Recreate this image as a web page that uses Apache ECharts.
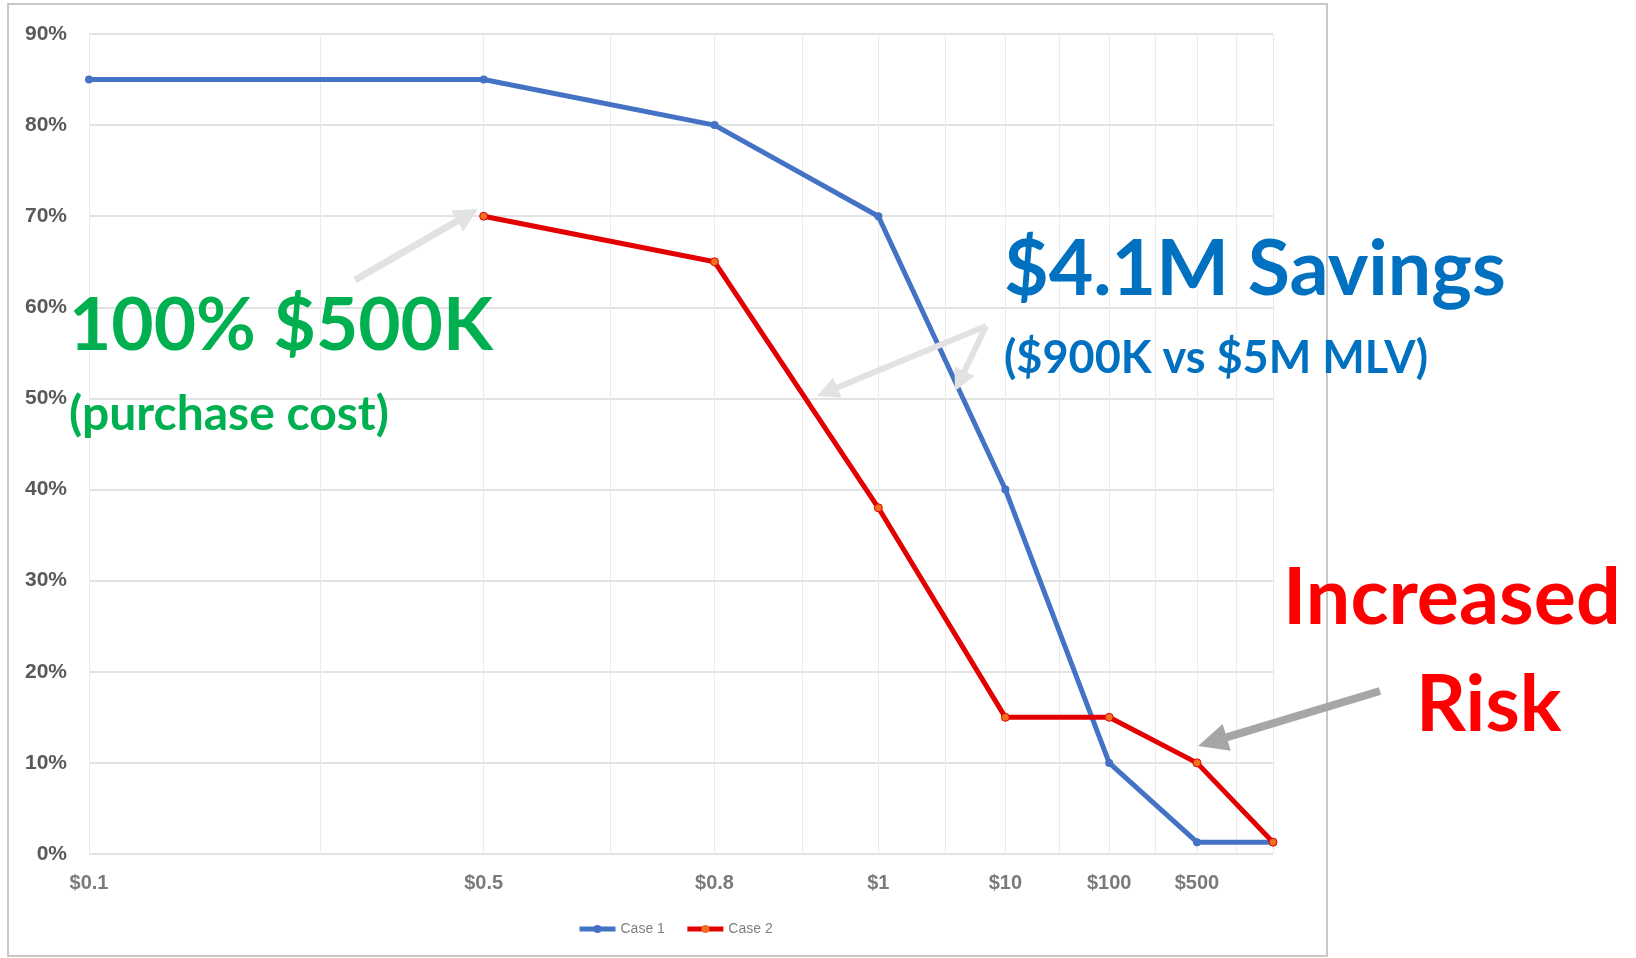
<!DOCTYPE html>
<html><head><meta charset="utf-8">
<script src="https://cdn.jsdelivr.net/npm/echarts@6/dist/echarts.min.js"></script>
<style>html,body{margin:0;padding:0;background:#fff}#c{width:1636px;height:958px}</style>
</head><body><div id="c"></div>
<script>
// Category labels and their positions on the chart's logarithmic x axis
const xLabels = ['$0.1', '$0.5', '$0.8', '$1', '$10', '$100', '$500', ''];
const xPositions = [1, 2, 3, 4, 5, 6, 7, 8];
// Vertical gridline values on the log axis (major + minor)
const gridPositions = [1, 1.5, 2, 2.5, 3, 3.5, 4, 4.5, 5, 5.5, 6, 6.5, 7, 7.5, 8];
// Series values (%)
const case1 = [85, 85, 80, 70, 40, 10, 1.3, 1.3];
const case2 = [null, 70, 65, 38, 15, 15, 10, 1.3];
const seriesNames = ['Case 1', 'Case 2'];

const chart = echarts.init(document.getElementById('c'));

function toPairs(vals) {
  const out = [];
  vals.forEach((v, i) => { if (v != null) out.push([xPositions[i], v]); });
  return out;
}

function arrow(x1, y1, x2, y2, color, w, hl, hw) {
  const dx = x2 - x1, dy = y2 - y1, L = Math.hypot(dx, dy);
  const ux = dx / L, uy = dy / L;
  const bx = x2 - ux * hl, by = y2 - uy * hl;
  const px = -uy, py = ux;
  return [
    { type: 'line', z: 100, shape: { x1: x1, y1: y1, x2: bx + ux * 2, y2: by + uy * 2 }, style: { stroke: color, lineWidth: w } },
    { type: 'polygon', z: 100, shape: { points: [[x2, y2], [bx + px * hw / 2, by + py * hw / 2], [bx - px * hw / 2, by - py * hw / 2]] }, style: { fill: color } }
  ];
}

const annotations = [
  { type: 'rect', z: 0, shape: { x: 8, y: 4, width: 1319, height: 952 }, style: { fill: 'none', stroke: '#C8C8C8', lineWidth: 2 } },
  { type: 'text', z: 101, x: 69, y: 326, style: { text: '100% $500K', font: 'bold 73px Lato', fill: '#00B050', verticalAlign: 'middle' } },
  { type: 'text', z: 101, x: 69, y: 415, style: { text: '(purchase cost)', font: 'bold 48px Lato', fill: '#00B050', verticalAlign: 'middle' } },
  { type: 'text', z: 101, x: 1004, y: 270, style: { text: '$4.1M Savings', font: 'bold 77px Lato', fill: '#0070C0', verticalAlign: 'middle' } },
  { type: 'text', z: 101, x: 1004, y: 358, style: { text: '($900K vs $5M MLV)', font: 'bold 45px Lato', fill: '#0070C0', verticalAlign: 'middle' } },
  { type: 'text', z: 101, x: 1283, y: 599, style: { text: 'Increased', font: 'bold 79px Lato', fill: '#FF0000', verticalAlign: 'middle' } },
  { type: 'text', z: 101, x: 1416, y: 706, style: { text: 'Risk', font: 'bold 78px Lato', fill: '#FF0000', verticalAlign: 'middle' } }
].concat(
  arrow(355, 280, 478, 209, '#E2E2E2', 7, 24, 24),
  arrow(986, 326, 817, 396, '#E2E2E2', 6, 22, 22),
  arrow(986, 326, 955, 391, '#E2E2E2', 6, 22, 22),
  arrow(1380, 691, 1198, 746, '#A6A6A6', 8, 30, 28)
);

const option = {
  animation: false,
  backgroundColor: '#ffffff',
  grid: { left: 89, right: 363, top: 34, bottom: 104, containLabel: false },
  xAxis: {
    type: 'log', logBase: 2, min: 1, max: 8,
    axisLine: { show: false }, axisTick: { show: false },
    axisLabel: { show: false }, splitLine: { show: false }, minorSplitLine: { show: false }
  },
  yAxis: {
    type: 'value', min: 0, max: 90, interval: 10,
    axisLine: { show: false }, axisTick: { show: false },
    axisLabel: { formatter: '{value}%', color: '#595959', fontSize: 21, fontWeight: 'bold', fontFamily: 'Liberation Sans', margin: 22 },
    splitLine: { lineStyle: { color: '#D9D9D9', width: 1.5 } }
  },
  legend: {
    data: seriesNames, left: 572, top: 917, itemWidth: 36, itemHeight: 10, itemGap: 20,
    lineStyle: { width: 5 },
    itemStyle: { borderWidth: 0 },
    textStyle: { color: '#7F7F7F', fontSize: 14, fontFamily: 'Liberation Sans' }
  },
  series: [
    {
      name: 'grid', type: 'line', data: [], z: 1, silent: true,
      markLine: {
        silent: true, symbol: ['none', 'none'], animation: false,
        lineStyle: { color: '#EBEBEB', width: 1, type: 'solid' },
        label: { show: false },
        emphasis: { disabled: true },
        data: gridPositions.map(v => ({ xAxis: v }))
      }
    },
    {
      name: 'labels', type: 'scatter', z: 3, silent: true,
      symbolSize: 1, itemStyle: { color: 'transparent' },
      label: {
        show: true, position: 'bottom', distance: 19,
        formatter: p => p.name, color: '#595959', fontSize: 20, fontWeight: 'bold', fontFamily: 'Liberation Sans'
      },
      data: xPositions.map((x, i) => ({ value: [x, 0], name: xLabels[i] }))
    },
    {
      name: seriesNames[0], type: 'line', z: 5, data: toPairs(case1),
      symbol: 'circle', symbolSize: 8, showSymbol: true,
      lineStyle: { color: '#4472C4', width: 5 },
      itemStyle: { color: '#4472C4' }
    },
    {
      name: seriesNames[1], type: 'line', z: 6, data: toPairs(case2),
      symbol: 'circle', symbolSize: 8, showSymbol: true,
      lineStyle: { color: '#E30000', width: 5 },
      itemStyle: { color: '#F07020', borderColor: '#E30000', borderWidth: 1 }
    }
  ],
  graphic: annotations
};
chart.setOption(option);
</script>
</body></html>
